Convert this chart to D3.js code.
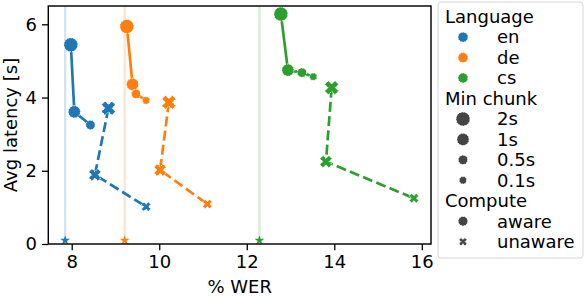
<!DOCTYPE html>
<html><head><meta charset="utf-8">
<script src="https://cdn.jsdelivr.net/npm/d3@7"></script>
<style>body{margin:0;background:#fff}svg{display:block;font-family:"DejaVu Sans",sans-serif}</style>
</head><body><svg id="c" width="586" height="296"></svg>
<script>
const languages = ["en", "de", "cs"];
const langColors = ["#1f77b4", "#ff7f0e", "#2ca02c"];
const chunks = ["2s", "1s", "0.5s", "0.1s"];
const computes = ["aware", "unaware"];
const xTicks = [8, 10, 12, 14, 16];
const yTicks = [0, 2, 4, 6];

// aware (solid, circles)
const enAwareWER = [7.98, 8.06, 8.43];
const enAwareLat = [5.44, 3.61, 3.25];
const enAwareChunk = ["2s", "1s", "0.5s"];
const deAwareWER = [9.26, 9.39, 9.47, 9.70];
const deAwareLat = [5.94, 4.36, 4.10, 3.92];
const deAwareChunk = ["2s", "1s", "0.5s", "0.1s"];
const csAwareWER = [12.78, 12.94, 13.26, 13.52];
const csAwareLat = [6.28, 4.75, 4.68, 4.57];
const csAwareChunk = ["2s", "1s", "0.5s", "0.1s"];
// unaware (dashed, X)
const enUnawareWER = [8.84, 8.53, 9.70];
const enUnawareLat = [3.71, 1.89, 1.02];
const deUnawareWER = [10.22, 10.02, 11.10];
const deUnawareLat = [3.87, 2.02, 1.09];
const csUnawareWER = [13.94, 13.81, 15.82];
const csUnawareLat = [4.27, 2.25, 1.25];
const unawareChunk = ["2s", "1s", "0.5s"];
// reference (offline) WER marked with star
const refWER = [7.85, 9.21, 12.29];
const refLat = [0.1, 0.1, 0.1];

const chunkR = {"2s": 7, "1s": 6.1, "0.5s": 4.7, "0.1s": 3.7};

const series = [
  {lang: 0, compute: "aware", wer: enAwareWER, lat: enAwareLat, ch: enAwareChunk},
  {lang: 1, compute: "aware", wer: deAwareWER, lat: deAwareLat, ch: deAwareChunk},
  {lang: 2, compute: "aware", wer: csAwareWER, lat: csAwareLat, ch: csAwareChunk},
  {lang: 0, compute: "unaware", wer: enUnawareWER, lat: enUnawareLat, ch: unawareChunk},
  {lang: 1, compute: "unaware", wer: deUnawareWER, lat: deUnawareLat, ch: unawareChunk},
  {lang: 2, compute: "unaware", wer: csUnawareWER, lat: csUnawareLat, ch: unawareChunk},
];

const svg = d3.select("#c");
const L = 48.3, R = 431, T = 6, B = 244;
const x = d3.scaleLinear().domain([7.465, 16.21]).range([L, R]);
const y = d3.scaleLinear().domain([0, 6.5]).range([B, T]);
const FS = 18;

function xPath(r) {
  const a = r * 0.52;
  const p = [[-r + a, -r], [0, -a], [r - a, -r], [r, -r + a], [a, 0], [r, r - a], [r - a, r], [0, a], [-r + a, r], [-r, r - a], [-a, 0], [-r, -r + a]];
  return "M" + p.map(q => q.join(",")).join("L") + "Z";
}
function starPath(R0) {
  const pts = [];
  const ri = R0 * 0.38;
  for (let i = 0; i < 10; i++) {
    const ang = -Math.PI / 2 + i * Math.PI / 5;
    const rr = i % 2 === 0 ? R0 : ri;
    pts.push([rr * Math.cos(ang), rr * Math.sin(ang)]);
  }
  return "M" + pts.map(q => q.join(",")).join("L") + "Z";
}
function drawMarker(g, kind, cx, cy, r, color) {
  if (kind === "aware") {
    g.append("circle").attr("cx", cx).attr("cy", cy).attr("r", r)
      .attr("fill", color).attr("stroke", "#fff").attr("stroke-width", 1).attr("stroke-dasharray", "1.5,1.2");
  } else {
    g.append("path").attr("d", xPath(r)).attr("transform", `translate(${cx},${cy})`)
      .attr("fill", color).attr("stroke", "#fff").attr("stroke-width", 1).attr("stroke-dasharray", "1.5,1.2");
  }
}

// clip
svg.append("clipPath").attr("id", "clip").append("rect").attr("x", L).attr("y", T).attr("width", R - L).attr("height", B - T);
const plot = svg.append("g").attr("clip-path", "url(#clip)");

// reference vertical lines
refWER.forEach((w, i) => {
  plot.append("line").attr("x1", x(w)).attr("x2", x(w)).attr("y1", y(0)).attr("y2", y(6.5))
    .attr("stroke", langColors[i]).attr("stroke-opacity", 0.2).attr("stroke-width", 2.4);
});

// lines
const line = d3.line().x(d => x(d[0])).y(d => y(d[1]));
series.forEach(s => {
  const pts = s.wer.map((w, i) => [w, s.lat[i]]);
  plot.append("path").attr("d", line(pts)).attr("fill", "none")
    .attr("stroke", langColors[s.lang]).attr("stroke-width", 2.7)
    .attr("stroke-dasharray", s.compute === "unaware" ? "10,4.3" : null);
});
// markers
series.forEach(s => {
  s.wer.forEach((w, i) => drawMarker(plot, s.compute, x(w), y(s.lat[i]), chunkR[s.ch[i]], langColors[s.lang]));
});
// stars
refWER.forEach((w, i) => {
  plot.append("path").attr("d", starPath(5.2)).attr("transform", `translate(${x(w)},${y(refLat[i])})`)
    .attr("fill", langColors[i]);
});

// axes frame
svg.append("rect").attr("x", L).attr("y", T).attr("width", R - L).attr("height", B - T)
  .attr("fill", "none").attr("stroke", "#000").attr("stroke-width", 1.44);

const xAxis = d3.axisBottom(x).tickValues(xTicks).tickSize(6.3).tickPadding(5).tickFormat(d3.format("d"));
const gx = svg.append("g").attr("transform", `translate(0,${B})`).call(xAxis);
const yAxis = d3.axisLeft(y).tickValues(yTicks).tickSize(6.3).tickPadding(5).tickFormat(d3.format("d"));
const gy = svg.append("g").attr("transform", `translate(${L},0)`).call(yAxis);
[gx, gy].forEach(g => {
  g.select(".domain").remove();
  g.selectAll(".tick line").attr("stroke", "#000").attr("stroke-width", 1.3);
  g.selectAll(".tick text").attr("fill", "#000").attr("font-size", FS).attr("font-family", "DejaVu Sans");
});

svg.append("text").attr("x", (L + R) / 2).attr("y", 293).attr("text-anchor", "middle")
  .attr("font-size", FS).text("% WER");
svg.append("text").attr("transform", `translate(17,${(T + B) / 2}) rotate(-90)`).attr("text-anchor", "middle")
  .attr("font-size", FS).text("Avg latency [s]");

// legend
const lg = svg.append("g");
lg.append("rect").attr("x", 438).attr("y", 2).attr("width", 145).attr("height", 256).attr("rx", 3)
  .attr("fill", "#fff").attr("fill-opacity", 0.8).attr("stroke", "#d6d6d6").attr("stroke-width", 1);
const rowY0 = 16.7, rowH = 20.45, tx = 445, mx = 463, ex = 497;
let row = 0;
const legendGray = "#444";
function title(t) {
  lg.append("text").attr("x", tx).attr("y", rowY0 + row * rowH).attr("dy", "0.35em").attr("font-size", FS).text(t);
  row++;
}
function entry(t, fn) {
  const cy = rowY0 + row * rowH;
  fn(mx, cy);
  lg.append("text").attr("x", ex).attr("y", cy).attr("dy", "0.35em").attr("font-size", FS).text(t);
  row++;
}
title("Language");
languages.forEach((l, i) => entry(l, (cx, cy) => drawMarker(lg, "aware", cx, cy, 5, langColors[i])));
title("Min chunk");
chunks.forEach(c => entry(c, (cx, cy) => drawMarker(lg, "aware", cx, cy, chunkR[c], legendGray)));
title("Compute");
computes.forEach(c => entry(c, (cx, cy) => drawMarker(lg, c, cx, cy, c === "aware" ? 4.8 : 4, legendGray)));
</script></body></html>
